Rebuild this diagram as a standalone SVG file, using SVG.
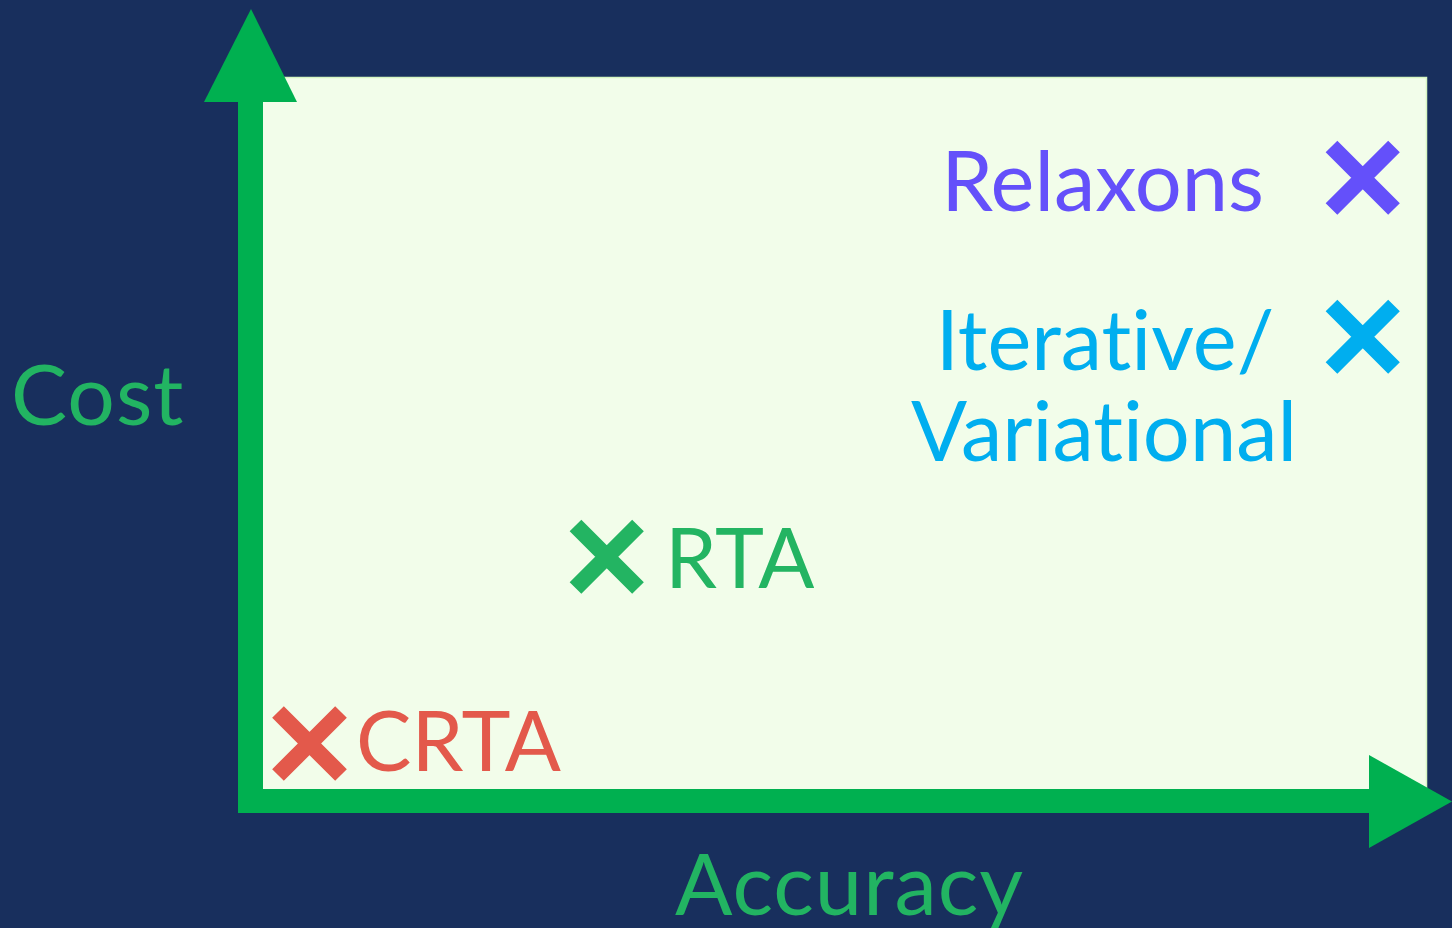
<svg xmlns="http://www.w3.org/2000/svg" width="1452" height="928" viewBox="0 0 1452 928">
  <style>
    .lbl { font-family: Lato, "Open Sans", sans-serif; font-size: 83px; font-variant-ligatures: none; font-feature-settings: "liga" 0; }
    .axis { fill: #00b050; }
    .mark { stroke-width: 16.5; stroke-linecap: butt; fill: none; }
  </style>
  <rect width="1452" height="928" fill="#182f5d"/>

  <!-- plot area -->
  <rect id="panel" x="250" y="77.5" width="1176.5" height="720" fill="#f2fdea" stroke="#d6f6c2" stroke-width="1.5"/>

  <!-- axes -->
  <g id="connectors">
    <g id="y-axis" class="axis">
      <rect x="238" y="95" width="25" height="718"/>
      <polygon points="251,9 204,102 297,102"/>
    </g>
    <g id="x-axis" class="axis">
      <rect x="238" y="789" width="1140" height="24"/>
      <polygon points="1369,755 1369,848 1452,801.5"/>
    </g>
  </g>

  <g id="axis-labels">
    <text id="cost" class="lbl" x="11" y="425" fill="#22b462" style="font-size:84px; letter-spacing:1px">Cost</text>
    <text id="accuracy" class="lbl" x="675" y="915" fill="#22b462" style="font-size:85px; letter-spacing:1px">Accuracy</text>
  </g>

  <g id="relaxons">
    <path class="mark" stroke="#6450fa" d="M1331.5,146.5 L1394,209 M1394,146.5 L1331.5,209"/>
    <text class="lbl" x="1264" y="210.5" text-anchor="end" fill="#6450fa">Relaxons</text>
  </g>

  <g id="iterative">
    <path class="mark" stroke="#00aeef" d="M1331.5,305.5 L1394,368 M1394,305.5 L1331.5,368"/>
    <text class="lbl" x="1105" y="370" text-anchor="middle" fill="#00aeef">Iterative/</text>
    <text class="lbl" x="1104" y="460.5" text-anchor="middle" fill="#00aeef">Variational</text>
  </g>

  <g id="rta">
    <path class="mark" stroke="#23b462" d="M575.5,525.5 L638,588 M638,525.5 L575.5,588"/>
    <text class="lbl" x="665" y="587.5" fill="#23b462">RTA</text>
  </g>

  <g id="crta">
    <path class="mark" stroke="#e3594b" d="M278,712 L341,775 M341,712 L278,775"/>
    <text class="lbl" x="356" y="771" fill="#e3594b">CRTA</text>
  </g>
</svg>
